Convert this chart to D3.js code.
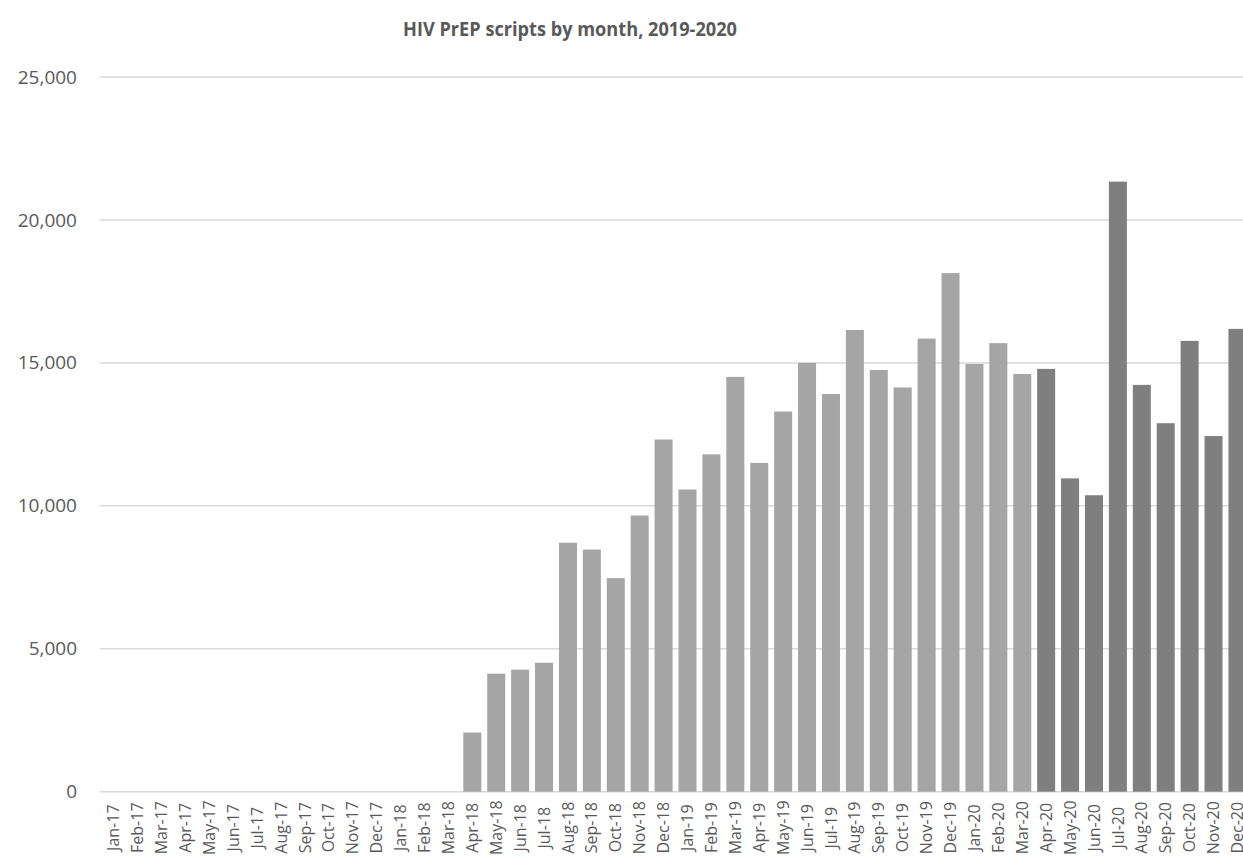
<!DOCTYPE html>
<html>
<head>
<meta charset="utf-8">
<script src="https://cdn.jsdelivr.net/npm/d3@7"></script>
<style>
  html, body { margin: 0; padding: 0; background: #ffffff; }
  svg { display: block; }
</style>
</head>
<body>
<div id="chart"></div>
<script>
// Monthly HIV PrEP prescriptions, Jan 2017 - Dec 2020
const months = [
  "Jan-17","Feb-17","Mar-17","Apr-17","May-17","Jun-17","Jul-17","Aug-17","Sep-17","Oct-17","Nov-17","Dec-17",
  "Jan-18","Feb-18","Mar-18","Apr-18","May-18","Jun-18","Jul-18","Aug-18","Sep-18","Oct-18","Nov-18","Dec-18",
  "Jan-19","Feb-19","Mar-19","Apr-19","May-19","Jun-19","Jul-19","Aug-19","Sep-19","Oct-19","Nov-19","Dec-19",
  "Jan-20","Feb-20","Mar-20","Apr-20","May-20","Jun-20","Jul-20","Aug-20","Sep-20","Oct-20","Nov-20","Dec-20"
];

const scripts = [
  0, 0, 0, 0, 0, 0, 0, 0, 0, 0, 0, 0,
  0, 0, 0, 2070, 4130, 4270, 4510, 8710, 8470, 7470, 9660, 12320,
  10570, 11800, 14510, 11500, 13300, 15000, 13910, 16150, 14750, 14140, 15850, 18140,
  14960, 15690, 14610, 14790, 10960, 10370, 21340, 14230, 12890, 15770, 12440, 16190
];

// Months from this one onward are shown in the darker shade
const highlightFrom = "Apr-20";

const yTicks = [0, 5000, 10000, 15000, 20000, 25000];
const chartTitle = "HIV PrEP scripts by month, 2019-2020";

const width = 1243, height = 857;
const textColor = "#595959";
const gridColor = "#d9d9d9";
const baseColor = "#a5a5a5";
const highlightColor = "#7f7f7f";
const fontFamily = "'Open Sans', 'Noto Sans', 'DejaVu Sans', sans-serif";

const svg = d3.select("#chart").append("svg")
  .attr("width", width)
  .attr("height", height)
  .style("font-family", fontFamily);

const x = d3.scaleBand()
  .domain(months)
  .range([101.7, 1249.4])
  .paddingInner(0.247)
  .paddingOuter(0.1235);

const y = d3.scaleLinear()
  .domain([0, 25000])
  .range([791.7, 77]);

// Horizontal gridlines
svg.append("g")
  .selectAll("line")
  .data(yTicks)
  .join("line")
  .attr("x1", 100)
  .attr("x2", width + 10)
  .attr("y1", d => y(d))
  .attr("y2", d => y(d))
  .attr("stroke", gridColor)
  .attr("stroke-width", 1.5);

// Y-axis labels
const yAxis = d3.axisLeft(y)
  .tickValues(yTicks)
  .tickFormat(d3.format(","))
  .tickSize(0)
  .tickPadding(0);

svg.append("g")
  .attr("transform", "translate(77,0)")
  .call(yAxis)
  .call(g => g.select(".domain").remove())
  .call(g => g.selectAll("text")
    .attr("fill", textColor)
    .style("font-size", "19px")
    .style("font-family", fontFamily));

// Bars
const startIdx = months.indexOf(highlightFrom);
svg.append("g")
  .selectAll("rect")
  .data(months.map((m, i) => ({ month: m, value: scripts[i], i })))
  .join("rect")
  .attr("x", d => x(d.month))
  .attr("width", x.bandwidth())
  .attr("y", d => y(d.value))
  .attr("height", d => y(0) - y(d.value))
  .attr("fill", d => d.i >= startIdx ? highlightColor : baseColor);

// X-axis labels, rotated to read bottom-to-top
const xAxis = d3.axisBottom(x).tickSize(0).tickPadding(0);
svg.append("g")
  .attr("transform", `translate(0,${y(0)})`)
  .call(xAxis)
  .call(g => g.select(".domain").remove())
  .call(g => g.selectAll("text")
    .attr("fill", textColor)
    .style("font-size", "16px")
    .style("font-family", fontFamily)
    .attr("text-anchor", "middle")
    .attr("dy", "0.35em")
    .attr("y", 0)
    .attr("transform", "translate(0,36) rotate(-90)"));

// Title
svg.append("text")
  .attr("x", 570)
  .attr("y", 36)
  .attr("text-anchor", "middle")
  .attr("fill", textColor)
  .style("font-size", "20px")
  .style("font-weight", "bold")
  .attr("textLength", 334)
  .attr("lengthAdjust", "spacingAndGlyphs")
  .text(chartTitle);
</script>
</body>
</html>
